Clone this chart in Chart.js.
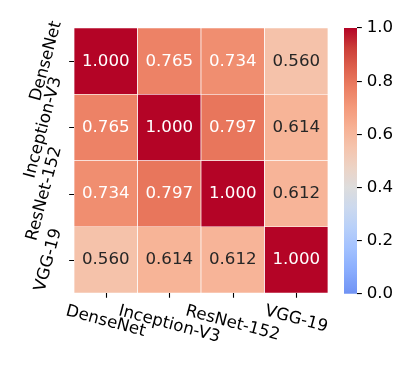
<!DOCTYPE html>
<html>
<head>
<meta charset="utf-8">
<script src="https://cdn.jsdelivr.net/npm/chart.js@4/dist/chart.umd.min.js"></script>
<style>
  html, body { margin: 0; padding: 0; background: #fff; }
  #wrap { position: relative; width: 415px; height: 368px; }
  #wrap canvas { position: absolute; left: 0; top: 0; }
</style>
</head>
<body>
<div id="wrap">
  <canvas id="heat" width="415" height="368"></canvas>
  <canvas id="cbar" width="415" height="368"></canvas>
</div>
<script>
// models on both axes
const models = ['DenseNet', 'Inception-V3', 'ResNet-152', 'VGG-19'];

// similarity rows (row = y label, column = x label)
const rowDenseNet    = [1.000, 0.765, 0.734, 0.560];
const rowInception   = [0.765, 1.000, 0.797, 0.614];
const rowResNet      = [0.734, 0.797, 1.000, 0.612];
const rowVGG         = [0.560, 0.614, 0.612, 1.000];
const rows = [rowDenseNet, rowInception, rowResNet, rowVGG];

// colorbar ticks
const cbarTicks = [0.0, 0.2, 0.4, 0.6, 0.8, 1.0];

// color scale: vmin 0, vmax 1, centred at 0.4 (coolwarm)
const vmin = 0, vmax = 1, center = 0.4;

// coolwarm stops, every 1/16
const coolwarm = [
  [.2298,.2987,.7537],[.3039,.4065,.8450],[.3830,.5094,.9174],[.4667,.6046,.9682],
  [.5530,.6889,.9954],[.6392,.7596,.9982],[.7222,.8140,.9766],[.7987,.8498,.9317],
  [.8654,.8654,.8654],[.9241,.8274,.7745],[.9589,.7698,.6780],[.9700,.6943,.5794],
  [.9580,.6028,.4818],[.9239,.4973,.3880],[.8692,.3783,.3003],[.7956,.2413,.2205],
  [.7057,.0156,.1502]
];

function cmapRGB(p) {
  p = Math.min(1, Math.max(0, p));
  const f = p * (coolwarm.length - 1);
  const i = Math.min(coolwarm.length - 2, Math.floor(f));
  const t = f - i;
  return coolwarm[i].map((c, k) => c + (coolwarm[i + 1][k] - c) * t);
}

function valueRGB(v) {
  const vrange = Math.max(vmax - center, center - vmin);
  return cmapRGB((v - (center - vrange)) / (2 * vrange));
}

function css(rgb) {
  return 'rgb(' + rgb.map(c => Math.round(c * 255)).join(',') + ')';
}

function luminance(rgb) {
  const lin = rgb.map(c => c <= 0.03928 ? c / 12.92 : Math.pow((c + 0.055) / 1.055, 2.4));
  return 0.2126 * lin[0] + 0.7152 * lin[1] + 0.0722 * lin[2];
}

const FONT_PX = 16.67;
const FONT = FONT_PX + 'px "DejaVu Sans"';
const TICK_LEN = 4.86, TICK_PAD = 4.86;
Chart.defaults.font.family = '"DejaVu Sans"';
Chart.defaults.font.size = FONT_PX;
Chart.defaults.color = '#000';

// text drawn like matplotlib: box of height 0.968em, centred on (cx, cy)
function drawRotated(ctx, text, cx, cy, deg) {
  ctx.save();
  ctx.translate(cx, cy);
  ctx.rotate(deg * Math.PI / 180);
  ctx.textAlign = 'center';
  ctx.textBaseline = 'alphabetic';
  ctx.fillText(text, 0, 0.276 * FONT_PX);
  ctx.restore();
}

const heatLabels = {
  id: 'heatLabels',
  afterDatasetsDraw(chart) {
    const { ctx, chartArea } = chart;
    const xs = chart.scales.x, ys = chart.scales.y;
    ctx.save();
    ctx.font = FONT;

    // cell annotations
    rows.forEach((row, i) => {
      row.forEach((v, j) => {
        const x = xs.getPixelForValue(j);
        const y = ys.getPixelForValue(i + 0.5);
        ctx.fillStyle = luminance(valueRGB(v)) > 0.408 ? '#262626' : '#ffffff';
        drawRotated(ctx, v.toFixed(3), x, y, 0);
      });
    });

    // tick marks
    ctx.strokeStyle = '#000';
    ctx.lineWidth = 1.1;
    ctx.beginPath();
    models.forEach((m, k) => {
      const x = Math.round(xs.getPixelForValue(k)) + 0.5;
      ctx.moveTo(x, chartArea.bottom);
      ctx.lineTo(x, chartArea.bottom + TICK_LEN);
      const y = Math.round(ys.getPixelForValue(k + 0.5)) + 0.5;
      ctx.moveTo(chartArea.left, y);
      ctx.lineTo(chartArea.left - TICK_LEN, y);
    });
    ctx.stroke();

    // tick labels
    ctx.fillStyle = '#000';
    const h = 0.968 * FONT_PX;
    const s15 = Math.sin(15 * Math.PI / 180), c15 = Math.cos(15 * Math.PI / 180);
    models.forEach((m, k) => {
      const w = ctx.measureText(m).width;
      // x labels, rotated -15 deg (clockwise)
      const bh = w * s15 + h * c15;
      drawRotated(ctx, m, xs.getPixelForValue(k),
        chartArea.bottom + TICK_LEN + TICK_PAD + bh / 2, 15);
      // y labels, rotated 75 deg
      const bw = w * s15 + h * c15;
      drawRotated(ctx, m, chartArea.left - TICK_LEN - TICK_PAD - bw / 2,
        ys.getPixelForValue(k + 0.5), -75);
    });
    ctx.restore();
  }
};

new Chart(document.getElementById('heat'), {
  type: 'bar',
  data: {
    labels: models,
    datasets: rows.map((row, i) => ({
      label: models[i],
      data: row.map(() => [i, i + 1]),
      backgroundColor: row.map(v => css(valueRGB(v))),
      borderColor: '#ffffff',
      borderWidth: 0.7,
      borderSkipped: false,
      barPercentage: 1,
      categoryPercentage: 1,
      grouped: false
    }))
  },
  options: {
    responsive: false,
    animation: false,
    devicePixelRatio: 1,
    layout: { padding: { left: 74, right: 87, top: 28, bottom: 75 } },
    scales: {
      x: { display: false },
      y: { display: false, min: 0, max: 4, reverse: true }
    },
    plugins: { legend: { display: false }, tooltip: { enabled: false } }
  },
  plugins: [heatLabels]
});

// colorbar
new Chart(document.getElementById('cbar'), {
  type: 'bar',
  data: {
    labels: [''],
    datasets: [{
      data: [[vmin, vmax]],
      barPercentage: 1,
      categoryPercentage: 1,
      borderWidth: 0,
      backgroundColor(context) {
        const { chart } = context;
        const area = chart.chartArea;
        if (!area) return null;
        const g = chart.ctx.createLinearGradient(0, area.bottom, 0, area.top);
        for (let k = 0; k <= 40; k++) {
          const v = vmin + (vmax - vmin) * k / 40;
          g.addColorStop(k / 40, css(valueRGB(v)));
        }
        return g;
      }
    }]
  },
  options: {
    responsive: false,
    animation: false,
    devicePixelRatio: 1,
    layout: { padding: { left: 344, right: 13, top: 28, bottom: 74 } },
    scales: {
      x: { display: false },
      y: {
        position: 'right',
        min: vmin,
        max: vmax,
        afterBuildTicks(scale) { scale.ticks = cbarTicks.map(v => ({ value: v })); },
        afterFit(scale) { scale.width = 45; },
        ticks: {
          padding: TICK_PAD,
          color: '#000',
          font: { size: FONT_PX },
          callback: v => Number(v).toFixed(1)
        },
        grid: {
          drawOnChartArea: false,
          drawTicks: true,
          tickLength: TICK_LEN,
          color: '#000',
          lineWidth: 1.1
        },
        border: { display: false }
      }
    },
    plugins: { legend: { display: false }, tooltip: { enabled: false } }
  }
});
</script>
</body>
</html>
